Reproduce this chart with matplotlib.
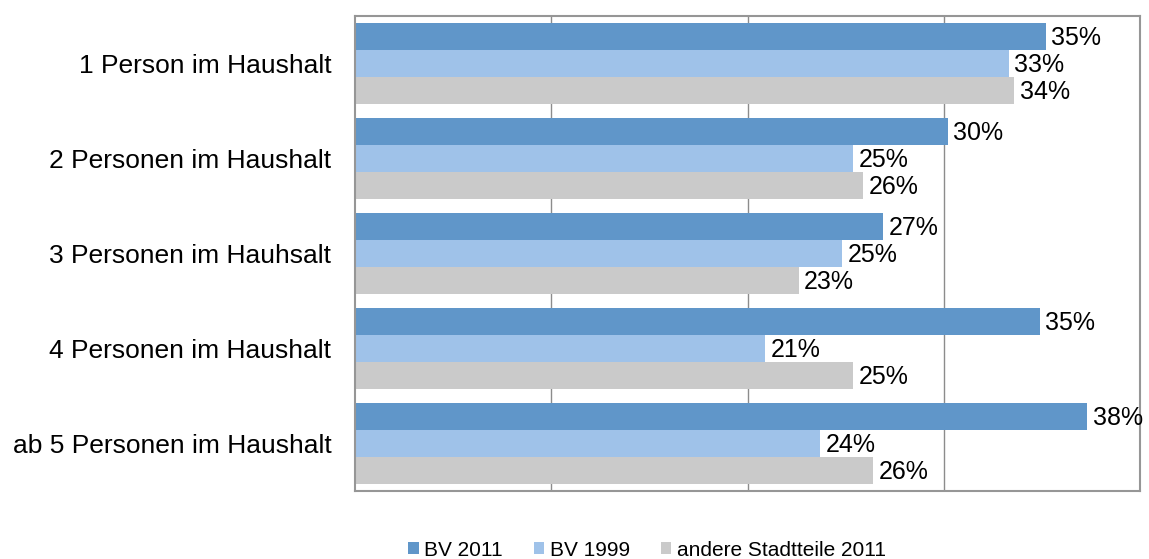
import matplotlib
matplotlib.use("Agg")
import matplotlib.pyplot as plt
import numpy as np
from matplotlib.patches import Patch

plt.rcParams['font.family'] = ['Liberation Sans', 'DejaVu Sans']

categories = ["1 Person im Haushalt", "2 Personen im Haushalt", "3 Personen im Hauhsalt",
              "4 Personen im Haushalt", "ab 5 Personen im Haushalt"]
series_names = ["BV 2011", "BV 1999", "andere Stadtteile 2011"]
bv2011 = [35.2, 30.2, 26.9, 34.9, 37.3]
bv1999 = [33.3, 25.4, 24.8, 20.9, 23.7]
andere = [33.6, 25.9, 22.6, 25.4, 26.4]
labels_bv2011 = ["35%", "30%", "27%", "35%", "38%"]
labels_bv1999 = ["33%", "25%", "25%", "21%", "24%"]
labels_andere = ["34%", "26%", "23%", "25%", "26%"]

colors = ["#6096C9", "#9FC2E9", "#CACACA"]

fig = plt.figure(figsize=(11.49, 5.59), dpi=100)
ax = fig.add_axes([355/1149, 1-491/559, (1140-355)/1149, (491-16)/559])

n = len(categories)
y = np.arange(n)
bh = 0.284
series = [bv2011, bv1999, andere]
labs = [labels_bv2011, labels_bv1999, labels_andere]
for i, (vals, lab) in enumerate(zip(series, labs)):
    pos = y + (i - 1) * bh
    bars = ax.barh(pos, vals, height=bh, color=colors[i], zorder=2, label=series_names[i])
    for b, t in zip(bars, lab):
        ax.annotate(t, (b.get_width(), b.get_y() + b.get_height()/2),
                    xytext=(4, -1), textcoords="offset points",
                    ha="left", va="center", fontsize=18, color="black")

ax.set_xlim(0, 40)
ax.set_ylim(n - 0.5, -0.5)
ax.set_xticks([10, 20, 30])
ax.tick_params(axis='x', length=0, labelbottom=False)
ax.xaxis.grid(True, color="#8C8C8C", linewidth=1.0, zorder=0)
ax.set_axisbelow(True)
ax.set_yticks(y)
ax.set_yticklabels(categories, fontsize=19)
ax.tick_params(axis='y', length=0, pad=17)
for s in ax.spines.values():
    s.set_color("#969696")
    s.set_linewidth(1.5)

handles = [Patch(facecolor=c, edgecolor='none') for c in colors]
fig.legend(handles, series_names, loc="center", bbox_to_anchor=(647/1149, 1-550/559),
           ncol=3, frameon=False, fontsize=15, handlelength=0.5, handleheight=0.5,
           handletextpad=0.25, columnspacing=1.5, borderaxespad=0)

fig.savefig("out.png", dpi=100)
